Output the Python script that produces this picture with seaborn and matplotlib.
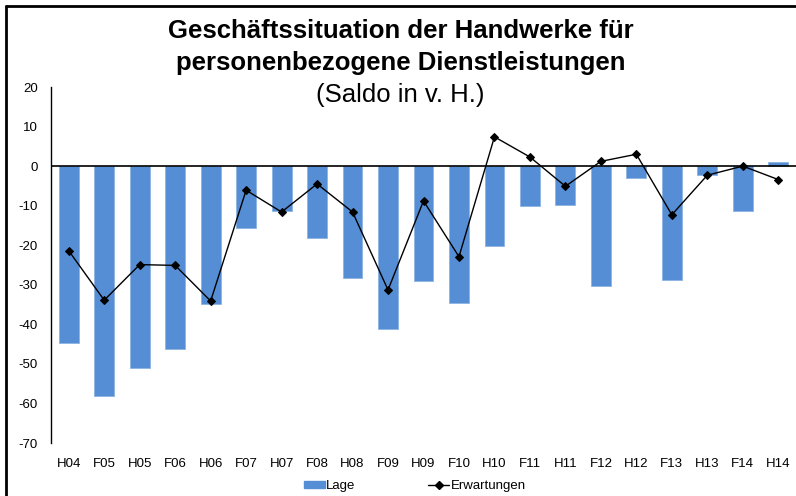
import matplotlib
matplotlib.use("Agg")
import matplotlib.pyplot as plt
from matplotlib.lines import Line2D
import seaborn as sns
import pandas as pd

periods = ["H04", "F05", "H05", "F06", "H06", "F07", "H07", "F08", "H08", "F09", "H09",
           "F10", "H10", "F11", "H11", "F12", "H12", "F13", "H13", "F14", "H14"]
lage = [-44.6, -58.0, -51.0, -46.3, -34.9, -15.7, -11.4, -18.2, -28.3, -41.2, -29.0,
        -34.5, -20.1, -10.1, -9.8, -30.4, -2.9, -28.8, -2.3, -11.4, 1.0]
erwartungen = [-21.4, -33.9, -24.9, -25.1, -34.1, -6.1, -11.6, -4.5, -11.6, -31.3, -8.8,
               -22.9, 7.4, 2.3, -5.1, 1.2, 3.0, -12.3, -2.3, 0.0, -3.4]

df = pd.DataFrame({"periode": periods, "Lage": lage, "Erwartungen": erwartungen})

sns.set_style("white")
plt.rcParams["font.family"] = ["Liberation Sans", "DejaVu Sans"]
plt.rcParams["axes.unicode_minus"] = False
plt.rcParams["text.color"] = "black"
plt.rcParams["xtick.color"] = "black"
plt.rcParams["ytick.color"] = "black"

fig = plt.figure(figsize=(7.96, 4.96), dpi=100)
ax = fig.add_axes([51 / 796, 1 - 443 / 496, (796 - 51) / 796, (443 - 87) / 496])

sns.barplot(data=df, x="periode", y="Lage", color="#558ED5", saturation=1,
            width=0.56, edgecolor="#8DB3E2", linewidth=0.6, ax=ax, label="Lage")
sns.pointplot(data=df, x="periode", y="Erwartungen", color="black", markers="D",
              markersize=4, linewidth=1, ax=ax, label="Erwartungen")

ax.axhline(0, color="black", lw=1.2, zorder=1.5)
ax.set_xlim(-0.5, len(periods) - 0.5)
ax.set_ylim(-70, 20)
ax.set_yticks(range(-70, 21, 10))
ax.set_xlabel("")
ax.set_ylabel("")
for s in ["top", "right", "bottom"]:
    ax.spines[s].set_visible(False)
ax.spines["left"].set_color("black")
ax.spines["left"].set_linewidth(1)
ax.tick_params(axis="y", direction="inout", length=7, width=1, labelsize=9.5, pad=6)
ax.tick_params(axis="x", length=0, labelsize=9.5, pad=11)

fig.text(0.503, 1 - 31 / 496, "Geschäftssituation der Handwerke für", ha="center", va="center",
         fontsize=18.5, fontweight="bold")
fig.text(0.503, 1 - 63 / 496, "personenbezogene Dienstleistungen", ha="center", va="center",
         fontsize=18.5, fontweight="bold")
fig.text(0.503, 1 - 95 / 496, "(Saldo in v. H.)", ha="center", va="center", fontsize=18.5)

handles = [plt.Rectangle((0, 0), 1, 1, color="#558ED5"),
           Line2D([], [], color="black", marker="D", markersize=4, lw=1)]
fig.legend(handles, ["Lage", "Erwartungen"], loc="center", bbox_to_anchor=(0.521, 1 - 486 / 496),
           ncol=2, frameon=False, fontsize=9.5, columnspacing=5.5, handlelength=1.6,
           handleheight=0.5, handletextpad=0.1)
if ax.get_legend() is not None:
    ax.get_legend().remove()

# outer frame (cut off at right and bottom like the reference)
fig.add_artist(Line2D([6 / 796, 6 / 796], [0, 1 - 6 / 496], color="black", lw=2,
                      transform=fig.transFigure))
fig.add_artist(Line2D([6 / 796, 1], [1 - 6 / 496, 1 - 6 / 496], color="black", lw=2,
                      transform=fig.transFigure))

fig.savefig("out.png", dpi=100)
